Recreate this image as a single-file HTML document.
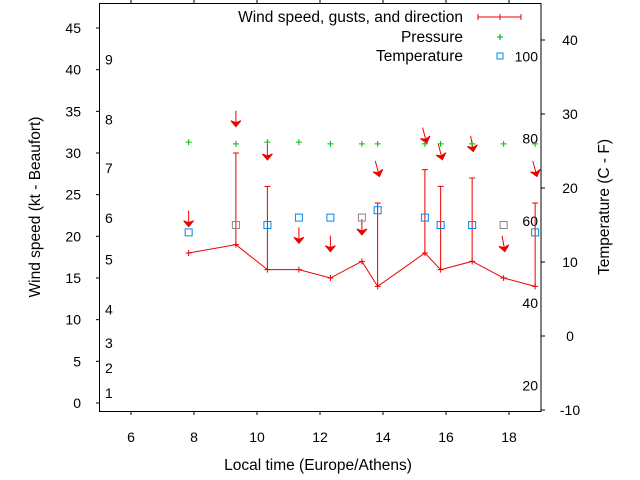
<!DOCTYPE html>
<html><head><meta charset="utf-8"><style>
body{margin:0;background:#fff}
svg{display:block;font-family:"Liberation Sans",sans-serif;font-size:14px}
.big{font-size:15.5px}
</style></head><body>
<svg id="chart" width="640" height="480" viewBox="0 0 640 480">
<rect x="99.5" y="3.5" width="441.5" height="408" fill="none" stroke="#000" stroke-width="1"/>
<g id="axes"></g>
<g id="marks"></g>
<text class="big" x="318" y="470" text-anchor="middle">Local time (Europe/Athens)</text>
<text class="big" transform="translate(40,207) rotate(-90)" text-anchor="middle">Wind speed (kt - Beaufort)</text>
<text class="big" transform="translate(609,207) rotate(-90)" text-anchor="middle">Temperature (C - F)</text>
<g>
<text class="big" x="463" y="22" text-anchor="end">Wind speed, gusts, and direction</text>
<line x1="478" y1="17" x2="521" y2="17" stroke="#e00" stroke-width="1"/>
<line x1="478" y1="14" x2="478" y2="20" stroke="#e00"/><line x1="521" y1="14" x2="521" y2="20" stroke="#e00"/><line x1="500" y1="14" x2="500" y2="20" stroke="#e00"/>
<text class="big" x="463" y="42" text-anchor="end">Pressure</text>
<path d="M497 37h6M500 34v6" stroke="#0a0" stroke-width="1"/>
<text class="big" x="463" y="61" text-anchor="end">Temperature</text>
<rect x="497" y="53" width="6" height="6" fill="none" stroke="#08e"/>
</g>
</svg>
<script>
const times=[7.83,9.33,10.33,11.33,12.33,13.33,13.83,15.33,15.83,16.83,17.83,18.83];
const windSpeed=[18,19,16,16,15,17,14,18,16,17,15,14];
const gusts=[null,30,26,null,null,null,24,28,26,27,null,24];
const dirArrowLevel=[22,34,30,20,19,21,28,32,30,31,19,28];
const dirAngle=[0,0,0,0,0,0,-15,-15,-15,-10,-10,-15];
const pressure=[1013.3,1013.1,1013.3,1013.3,1013.1,1013.1,1013.1,1013.1,1013.1,1013.1,1013.1,1013.1];
const temperature=[14,15,15,16,16,16,17,16,15,15,15,14];
const tempGray=[false,true,false,false,false,true,false,false,false,false,true,false];
const xTicks=[6,8,10,12,14,16,18];
const yTicks=[0,5,10,15,20,25,30,35,40,45];
const y2Ticks=[-10,0,10,20,30,40];
const beaufort=[[1,1.2],[2,4.2],[3,7.2],[4,11.2],[5,17.2],[6,22.2],[7,28.2],[8,34],[9,41.2]];
const fahr=[20,40,60,80,100];
const NS='http://www.w3.org/2000/svg';
const X=t=>99.5+(t-5)*31.5;
const Y=v=>403-v*8.333;
const T=c=>336-c*7.4;
const P=p=>Y(p-982);
function mk(tag,attrs,parent,txt){const e=document.createElementNS(NS,tag);for(const k in attrs)e.setAttribute(k,attrs[k]);if(txt!==undefined)e.textContent=txt;parent.appendChild(e);return e;}
const ax=document.getElementById('axes'),mg=document.getElementById('marks');
xTicks.forEach(t=>{const g=mk('g',{},ax);


mk('line',{x1:X(t),x2:X(t),y1:411.5,y2:415,stroke:'#000'},g);mk('line',{x1:X(t),x2:X(t),y1:3.5,y2:0,stroke:'#000'},g);mk('text',{x:X(t),y:442,'text-anchor':'middle'},g,t);});
yTicks.forEach(v=>{const g=mk('g',{},ax);


mk('line',{x1:96,x2:99.5,y1:Y(v),y2:Y(v),stroke:'#000'},g);mk('text',{x:81,y:Y(v)+5,'text-anchor':'end'},g,v);});
y2Ticks.forEach(v=>{const g=mk('g',{},ax);


mk('line',{x1:541,x2:545,y1:T(v),y2:T(v),stroke:'#000'},g);mk('text',{x:570,y:T(v)+5,'text-anchor':'middle'},g,v);});
beaufort.forEach(b=>{const e=mk('text',{x:105,y:Y(b[1])+5},ax,b[0]);

});
fahr.forEach(f=>{const e=mk('text',{x:538,y:T((f-32)*5/9)+5,'text-anchor':'end'},ax,f);

});
const pl=mk('polyline',{points:times.map((t,i)=>X(t)+','+Y(windSpeed[i])).join(' '),fill:'none',stroke:'#e00'},mg);


times.forEach((t,i)=>{const x=X(t),y=Y(windSpeed[i]);
const g=mk('g',{stroke:'#e00',fill:'none'},mg);


mk('path',{d:`M${x-3} ${y}h6M${x} ${y-3}v6`},g);
if(gusts[i]!=null){const gy=Y(gusts[i]);mk('path',{d:`M${x} ${y}V${gy}M${x-3} ${gy}h6`},g);}
const ay=Y(dirArrowLevel[i]);
const a=mk('g',{transform:`translate(${x},${ay}) rotate(${dirAngle[i]})`},mg);


mk('line',{x1:0,y1:-9,x2:0,y2:3,stroke:'#e00'},a);
mk('path',{d:'M-5 1L0 7L5 1L0 3Z',fill:'#e00',stroke:'#e00'},a);
const p=mk('path',{d:`M${x-3} ${P(pressure[i])}h6M${x} ${P(pressure[i])-3}v6`,stroke:'#0b0'},mg);


const ty=T(temperature[i]);
const r=mk('rect',{x:x-3.5,y:ty-3.5,width:7,height:7,fill:'none',stroke:tempGray[i]?'#888':'#08e'},mg);


});
</script>
</body></html>
